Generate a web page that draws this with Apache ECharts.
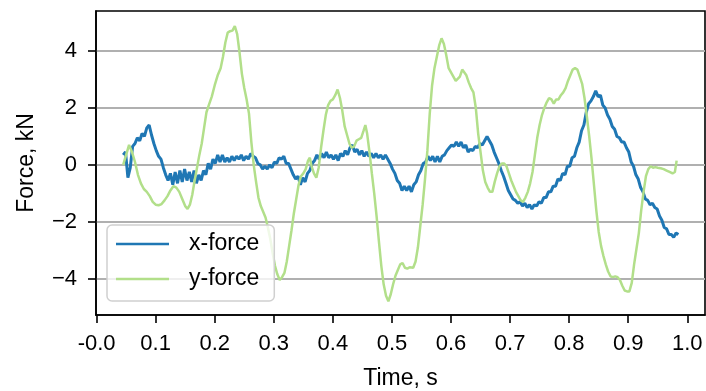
<!DOCTYPE html>
<html>
<head>
<meta charset="utf-8">
<title>Force vs time</title>
<script src="https://cdn.jsdelivr.net/npm/echarts@6/dist/echarts.min.js"></script>
<style>
  html, body { margin: 0; padding: 0; background: #fff; }
  #chart { width: 706px; height: 391px; }
</style>
</head>
<body>
<div id="chart"></div>
<script>
// Series names shown in the legend
const seriesNames = ['x-force', 'y-force'];

// Tick positions
const timeTicks = [0, 0.1, 0.2, 0.3, 0.4, 0.5, 0.6, 0.7, 0.8, 0.9, 1.0];
const forceTicks = [-4, -2, 0, 2, 4];

// x-force samples: [time s, force kN]
const xForce = [
  [0.045, 0.35], [0.049, 0.45], [0.053, -0.45], [0.057, -0.1], [0.061, 0.65], [0.065, 0.75],
  [0.069, 0.95], [0.073, 0.85], [0.077, 1.1], [0.081, 1.0], [0.085, 1.3], [0.089, 1.4],
  [0.093, 1.05], [0.097, 0.75], [0.101, 0.5], [0.105, 0.3], [0.109, 0.2], [0.113, -0.1],
  [0.117, -0.35], [0.121, -0.55], [0.125, -0.3], [0.129, -0.7], [0.133, -0.25], [0.137, -0.65],
  [0.141, -0.2], [0.145, -0.6], [0.149, -0.15], [0.153, -0.55], [0.157, -0.25], [0.161, -0.6],
  [0.165, -0.2], [0.169, -0.65], [0.173, -0.35], [0.177, -0.55], [0.181, -0.2], [0.185, -0.35],
  [0.189, 0.05], [0.193, -0.15], [0.197, 0.2], [0.201, 0.05], [0.205, 0.35], [0.209, 0.1],
  [0.213, 0.35], [0.217, 0.1], [0.221, 0.25], [0.225, 0.1], [0.229, 0.3], [0.233, 0.15],
  [0.237, 0.3], [0.241, 0.2], [0.245, 0.35], [0.249, 0.15], [0.253, 0.3], [0.257, 0.2],
  [0.261, 0.4], [0.265, 0.3], [0.269, 0.25], [0.273, 0.05], [0.277, 0.0], [0.281, -0.15],
  [0.285, -0.05], [0.289, -0.15], [0.293, 0.0], [0.297, -0.1], [0.301, 0.1], [0.305, 0.05],
  [0.309, 0.25], [0.313, 0.2], [0.317, 0.3], [0.321, 0.05], [0.325, 0.05], [0.329, -0.15],
  [0.333, -0.35], [0.337, -0.5], [0.341, -0.4], [0.345, -0.7], [0.349, -0.45], [0.353, -0.6],
  [0.357, -0.3], [0.361, -0.2], [0.365, 0.05], [0.369, 0.15], [0.373, 0.35], [0.377, 0.2],
  [0.381, 0.4], [0.385, 0.25], [0.389, 0.45], [0.393, 0.25], [0.397, 0.35], [0.401, 0.2],
  [0.405, 0.35], [0.409, 0.15], [0.413, 0.4], [0.417, 0.3], [0.421, 0.5], [0.425, 0.35],
  [0.429, 0.6], [0.433, 0.7], [0.437, 0.45], [0.441, 0.55], [0.445, 0.35], [0.449, 0.5],
  [0.453, 0.3], [0.457, 0.45], [0.461, 0.3], [0.465, 0.4], [0.469, 0.25], [0.473, 0.4],
  [0.477, 0.25], [0.481, 0.35], [0.485, 0.2], [0.489, 0.35], [0.493, 0.2], [0.497, 0.05],
  [0.501, -0.15], [0.505, -0.3], [0.509, -0.55], [0.513, -0.65], [0.517, -0.9], [0.521, -0.75],
  [0.525, -0.9], [0.529, -0.75], [0.533, -0.95], [0.537, -0.7], [0.541, -0.6], [0.545, -0.35],
  [0.549, -0.2], [0.553, 0.05], [0.557, 0.1], [0.561, 0.3], [0.565, 0.15], [0.569, 0.3],
  [0.573, 0.1], [0.577, 0.3], [0.581, 0.1], [0.585, 0.3], [0.589, 0.35], [0.593, 0.5],
  [0.597, 0.6], [0.601, 0.7], [0.605, 0.65], [0.609, 0.8], [0.613, 0.65], [0.617, 0.8],
  [0.621, 0.6], [0.625, 0.7], [0.629, 0.45], [0.633, 0.55], [0.637, 0.5], [0.641, 0.65],
  [0.645, 0.6], [0.649, 0.75], [0.653, 0.7], [0.657, 0.85], [0.661, 1.0], [0.665, 0.85],
  [0.669, 0.7], [0.673, 0.45], [0.677, 0.25], [0.681, 0.05], [0.685, -0.2], [0.689, -0.4],
  [0.693, -0.65], [0.697, -0.9], [0.701, -1.05], [0.705, -1.2], [0.709, -1.25], [0.713, -1.35],
  [0.717, -1.3], [0.721, -1.45], [0.725, -1.35], [0.729, -1.5], [0.733, -1.4], [0.737, -1.55],
  [0.741, -1.4], [0.745, -1.45], [0.749, -1.3], [0.753, -1.35], [0.757, -1.15], [0.761, -1.15],
  [0.765, -0.95], [0.769, -0.95], [0.773, -0.75], [0.777, -0.75], [0.781, -0.5], [0.785, -0.55],
  [0.789, -0.3], [0.793, -0.35], [0.797, -0.05], [0.801, -0.05], [0.805, 0.25], [0.809, 0.3],
  [0.813, 0.6], [0.817, 0.8], [0.821, 1.2], [0.825, 1.4], [0.829, 1.85], [0.833, 2.15],
  [0.837, 2.25], [0.841, 2.4], [0.845, 2.6], [0.849, 2.4], [0.853, 2.45], [0.857, 2.1],
  [0.861, 2.0], [0.865, 1.75], [0.869, 1.6], [0.873, 1.35], [0.877, 1.25], [0.881, 1.0],
  [0.885, 0.95], [0.889, 0.8], [0.893, 0.8], [0.897, 0.6], [0.901, 0.45], [0.905, 0.1],
  [0.909, -0.05], [0.913, -0.35], [0.917, -0.5], [0.921, -0.8], [0.925, -0.95], [0.929, -1.2],
  [0.933, -1.25], [0.937, -1.4], [0.941, -1.35], [0.945, -1.5], [0.949, -1.55], [0.953, -1.8],
  [0.957, -1.95], [0.961, -2.2], [0.965, -2.25], [0.969, -2.45], [0.973, -2.45], [0.977, -2.55],
  [0.981, -2.4], [0.985, -2.45]
];

// y-force samples: [time s, force kN]
const yForce = [
  [0.045, 0.0], [0.05, 0.35], [0.055, 0.7], [0.06, 0.45], [0.065, 0.1], [0.07, -0.35],
  [0.075, -0.65], [0.08, -0.85], [0.085, -0.95], [0.09, -1.1], [0.095, -1.3], [0.1, -1.4],
  [0.105, -1.42], [0.11, -1.38], [0.115, -1.25], [0.12, -1.1], [0.125, -0.9], [0.13, -0.75],
  [0.135, -0.8], [0.14, -0.95], [0.145, -1.2], [0.15, -1.45], [0.154, -1.55], [0.158, -1.4],
  [0.162, -1.05], [0.166, -0.55], [0.17, -0.1], [0.174, 0.35], [0.178, 0.75], [0.182, 1.3],
  [0.186, 1.85], [0.19, 2.1], [0.195, 2.4], [0.2, 2.8], [0.205, 3.15], [0.21, 3.4],
  [0.214, 3.8], [0.218, 4.3], [0.222, 4.65], [0.226, 4.7], [0.23, 4.72], [0.234, 4.88],
  [0.238, 4.6], [0.242, 3.95], [0.246, 3.2], [0.25, 2.7], [0.254, 2.3], [0.258, 1.8],
  [0.262, 0.8], [0.266, 0.0], [0.27, -0.6], [0.274, -1.15], [0.278, -1.45], [0.282, -1.65],
  [0.286, -1.85], [0.29, -2.2], [0.294, -2.6], [0.298, -3.1], [0.302, -3.55], [0.306, -3.85],
  [0.31, -4.05], [0.314, -3.95], [0.318, -3.8], [0.322, -3.4], [0.326, -2.85], [0.33, -2.3],
  [0.334, -1.7], [0.338, -1.2], [0.342, -0.7], [0.346, -0.4], [0.35, -0.3], [0.354, -0.15],
  [0.358, 0.15], [0.361, 0.25], [0.364, -0.05], [0.368, -0.3], [0.372, -0.45], [0.376, -0.1],
  [0.38, 0.6], [0.384, 1.2], [0.388, 1.75], [0.392, 2.1], [0.396, 2.25], [0.4, 2.3],
  [0.404, 2.45], [0.408, 2.65], [0.412, 2.35], [0.416, 1.9], [0.42, 1.35], [0.424, 1.05],
  [0.428, 0.75], [0.432, 0.6], [0.436, 0.65], [0.44, 0.85], [0.444, 0.9], [0.448, 0.95],
  [0.452, 1.2], [0.455, 1.4], [0.458, 1.1], [0.462, 0.45], [0.466, -0.3], [0.47, -1.0],
  [0.474, -1.8], [0.478, -2.7], [0.482, -3.55], [0.486, -4.2], [0.49, -4.6], [0.494, -4.8],
  [0.498, -4.55], [0.502, -4.2], [0.506, -3.9], [0.51, -3.7], [0.514, -3.5], [0.518, -3.45],
  [0.522, -3.62], [0.526, -3.65], [0.53, -3.6], [0.536, -3.62], [0.54, -3.4], [0.544, -2.9],
  [0.548, -2.15], [0.552, -1.4], [0.556, -0.5], [0.56, 0.5], [0.564, 1.8], [0.568, 2.8],
  [0.572, 3.4], [0.576, 3.8], [0.58, 4.2], [0.584, 4.45], [0.588, 4.25], [0.592, 3.85],
  [0.596, 3.4], [0.6, 3.25], [0.604, 3.1], [0.608, 2.95], [0.611, 2.88], [0.615, 3.1],
  [0.619, 3.35], [0.622, 3.4], [0.626, 3.15], [0.63, 2.9], [0.634, 2.7], [0.638, 2.55],
  [0.642, 2.0], [0.646, 1.1], [0.65, 0.45], [0.654, -0.2], [0.658, -0.6], [0.662, -0.8],
  [0.666, -0.95], [0.67, -0.95], [0.674, -0.6], [0.678, -0.3], [0.682, -0.05], [0.686, 0.05],
  [0.69, 0.05], [0.694, -0.05], [0.698, -0.3], [0.702, -0.55], [0.706, -0.75], [0.71, -0.95],
  [0.714, -1.1], [0.718, -1.25], [0.722, -1.3], [0.726, -1.15], [0.73, -0.95], [0.734, -0.65],
  [0.738, -0.25], [0.742, 0.35], [0.746, 0.95], [0.75, 1.4], [0.754, 1.75], [0.758, 2.0],
  [0.762, 2.2], [0.766, 2.35], [0.77, 2.3], [0.774, 2.15], [0.778, 2.3], [0.782, 2.3],
  [0.786, 2.45], [0.79, 2.55], [0.794, 2.7], [0.798, 2.95], [0.802, 3.15], [0.806, 3.35],
  [0.81, 3.4], [0.814, 3.35], [0.818, 3.1], [0.822, 2.85], [0.826, 2.35], [0.83, 1.7],
  [0.834, 1.0], [0.838, 0.2], [0.842, -0.7], [0.846, -1.6], [0.85, -2.35], [0.854, -2.85],
  [0.858, -3.2], [0.862, -3.5], [0.866, -3.75], [0.87, -3.92], [0.874, -3.95], [0.878, -3.92],
  [0.882, -3.95], [0.886, -4.05], [0.89, -4.25], [0.894, -4.42], [0.898, -4.45], [0.902, -4.45],
  [0.906, -4.15], [0.91, -3.5], [0.914, -2.95], [0.918, -2.4], [0.922, -1.6], [0.926, -0.95],
  [0.93, -0.4], [0.934, -0.15], [0.938, -0.05], [0.942, -0.1], [0.946, -0.08], [0.95, -0.1],
  [0.955, -0.12], [0.96, -0.15], [0.965, -0.2], [0.97, -0.25], [0.975, -0.3], [0.979, -0.25],
  [0.982, 0.15]
];

const FONT = '"Liberation Sans", Arial, Helvetica, sans-serif';
const chart = echarts.init(document.getElementById('chart'), null, { renderer: 'canvas' });

chart.setOption({
  animation: false,
  backgroundColor: '#fff',
  textStyle: { fontFamily: FONT },
  grid: {
    left: 96, right: 1, top: 11, bottom: 76,
    containLabel: false, outerBoundsMode: 'none',
    show: true, borderColor: '#000', borderWidth: 1.6, backgroundColor: 'transparent'
  },
  legend: {
    orient: 'vertical',
    left: 107, top: 225,
    data: seriesNames.map(n => ({ name: n, icon: 'rect' })),
    itemWidth: 53, itemHeight: 2.5, itemGap: 9,
    padding: [6, 15, 9, 9],
    backgroundColor: 'rgba(255,255,255,0.8)',
    borderColor: '#d0d0d0', borderWidth: 1.5, borderRadius: 5,
    textStyle: { fontFamily: FONT, fontSize: 23, color: '#000', lineHeight: 26, padding: [0, 0, 0, 15] }
  },
  xAxis: {
    type: 'value',
    min: -0.001, max: 1.03,
    name: 'Time, s', nameLocation: 'middle', nameGap: 52,
    nameTextStyle: { fontFamily: FONT, fontSize: 23, color: '#000' },
    axisLine: { show: true, onZero: false, lineStyle: { color: '#000', width: 1.6 } },
    axisTick: { show: true, length: 8, customValues: timeTicks, lineStyle: { color: '#000', width: 1.6 } },
    axisLabel: {
      customValues: timeTicks, margin: 18,
      fontFamily: FONT, fontSize: 22, color: '#000',
      formatter: v => (v === 0 ? '-0.0' : v.toFixed(1))
    },
    splitLine: { show: false }
  },
  yAxis: {
    type: 'value',
    min: -5.28, max: 5.41,
    name: 'Force, kN', nameLocation: 'middle', nameGap: 58, nameRotate: 90,
    nameTextStyle: { fontFamily: FONT, fontSize: 23, color: '#000' },
    axisLine: { show: true, onZero: false, lineStyle: { color: '#000', width: 1.6 } },
    axisTick: { show: true, length: 8, customValues: forceTicks, lineStyle: { color: '#000', width: 1.6 } },
    axisLabel: {
      customValues: forceTicks, margin: 19,
      fontFamily: FONT, fontSize: 22, color: '#000',
      formatter: v => (v < 0 ? '\u2212' + Math.abs(v) : String(v))
    },
    splitLine: { show: true, lineStyle: { color: '#b0b0b0', width: 2 } }
  },
  series: [
    {
      name: seriesNames[0], type: 'line', data: xForce,
      showSymbol: false, symbol: 'none',
      lineStyle: { color: '#1f77b4', width: 3 }, itemStyle: { color: '#1f77b4' }
    },
    {
      name: seriesNames[1], type: 'line', data: yForce,
      showSymbol: false, symbol: 'none',
      lineStyle: { color: '#b2df8a', width: 2.5 }, itemStyle: { color: '#b2df8a' }
    }
  ]
});
</script>
</body>
</html>
